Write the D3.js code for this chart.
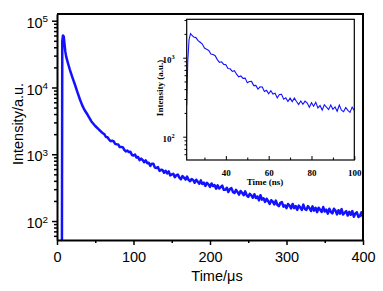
<!DOCTYPE html>
<html>
<head>
<meta charset="utf-8">
<script src="https://cdn.jsdelivr.net/npm/d3@7"></script>
<style>
    body { margin: 0; background: #fff; }
    svg { display: block; }
</style>
</head>
<body>
<div id="chart"></div>
<script>

// ---- main decay (time in µs) ----
// rise + fast decay, read point by point
const riseTime = [6.4, 6.9, 7.8, 8.8, 9.8, 10.8, 12, 13.5, 15, 17, 20, 23.5, 27, 30, 33, 36, 40, 45, 50, 55];
const riseCounts = [20, 50000, 60000, 58000, 45000, 35000, 29000, 25000, 21700, 18200, 14300, 11000, 8300, 6600, 5400, 4600, 3900, 3100, 2650, 2330];

// noisy tail, one reading every 2 µs from 60 to 400
const tailStart = 60, tailStep = 2;
const tailCounts = [
    2060, 1989, 1813, 1803, 1663, 1571, 1596, 1570, 1431, 1410,
    1406, 1280, 1288, 1279, 1166, 1104, 1137, 1080, 1087, 975,
    960, 992, 892, 908, 817, 860, 818, 758, 809, 735,
    745, 669, 723, 719, 631, 624, 641, 564, 584, 580,
    528, 566, 517, 554, 483, 499, 510, 453, 485, 495,
    446, 422, 470, 445, 418, 462, 414, 395, 426, 412,
    374, 416, 387, 362, 406, 359, 376, 335, 373, 354,
    325, 365, 334, 345, 305, 343, 307, 322, 340, 293,
    295, 315, 272, 301, 311, 273, 263, 293, 272, 249,
    282, 265, 244, 278, 243, 230, 256, 242, 223, 252,
    221, 233, 204, 244, 209, 219, 193, 216, 198, 180,
    205, 195, 177, 202, 175, 167, 187, 192, 164, 172,
    156, 180, 170, 155, 180, 156, 168, 147, 170, 159,
    147, 176, 152, 147, 167, 157, 141, 166, 143, 158,
    136, 158, 147, 137, 162, 139, 148, 129, 153, 137,
    130, 153, 144, 126, 145, 129, 151, 125, 133, 141,
    121, 137, 124, 141, 116, 130, 135, 115, 119, 135,
    114
];

// ---- inset (time in ns) ----
const insetRiseTime = [21.7, 22.2, 22.8, 23.5];
const insetRiseCounts = [250, 900, 1700, 2020];
const insetStart = 24, insetStep = 1;
const insetCounts = [
    1950, 1823, 1795, 1643, 1566, 1488, 1323, 1275, 1236, 1116,
    1096, 1061, 946, 874, 887, 822, 816, 728, 723, 670,
    686, 618, 572, 586, 547, 551, 482, 500, 501, 443,
    446, 401, 428, 426, 373, 386, 350, 381, 347, 355,
    310, 342, 343, 299, 310, 279, 308, 278, 308, 279,
    256, 283, 257, 282, 266, 236, 269, 243, 272, 231,
    248, 217, 254, 236, 220, 251, 222, 238, 210, 251,
    217, 207, 234, 216, 203, 237, 215
];

// ticks
const mainXTicks = [0, 100, 200, 300, 400];
const mainXMinor = [50, 150, 250, 350];
const mainYTicks = [1e2, 1e3, 1e4, 1e5];
const insetXTicks = [40, 60, 80, 100];
const insetXMinor = [30, 50, 70, 90];
const insetYTicks = [1e2, 1e3];

const W = 383, H = 291;
const lineColor = "#1212ff";

let mainData = riseTime.map((t, i) => ({t: t, v: riseCounts[i]}));
tailCounts.forEach((v, i) => mainData.push({t: tailStart + i * tailStep, v: v}));

let insetData = insetRiseTime.map((t, i) => ({t: t, v: insetRiseCounts[i]}));
insetCounts.forEach((v, i) => insetData.push({t: insetStart + i * insetStep, v: v}));

// minor log ticks
function logMinor(lo, hi) {
    let out = [];
    for (let e = Math.floor(Math.log10(lo)); e <= Math.ceil(Math.log10(hi)); e++) {
        for (let m = 2; m <= 9; m++) {
            let v = m * Math.pow(10, e);
            if (v >= lo && v <= hi) out.push(v);
        }
    }
    return out;
}

function supLabels(g, sizeEm) {
    g.selectAll(".tick text").each(function(d) {
        let t = d3.select(this).text(null);
        t.append("tspan").text("10");
        t.append("tspan")
            .attr("dy", "-0.55em")
            .attr("font-size", sizeEm)
            .text(Math.round(Math.log10(d)));
    });
}

let svg = d3.select("#chart").append("svg")
    .attr("width", W)
    .attr("height", H);

// ---------- main plot ----------
let plot = {left: 57, right: 363, top: 14, bottom: 240};

let x = d3.scaleLinear().domain([0, 400]).range([plot.left, plot.right]);
let y = d3.scaleLog().domain([52, 126000]).range([plot.bottom, plot.top]);

svg.append("clipPath").attr("id", "mainClip")
    .append("rect")
    .attr("x", plot.left).attr("y", plot.top)
    .attr("width", plot.right - plot.left)
    .attr("height", plot.bottom - plot.top);

let line = d3.line().x(d => x(d.t)).y(d => y(d.v));

svg.append("path")
    .datum(mainData)
    .attr("clip-path", "url(#mainClip)")
    .attr("fill", "none")
    .attr("stroke", lineColor)
    .attr("stroke-width", 2.5)
    .attr("stroke-linejoin", "round")
    .attr("d", line);

// frame top/right
svg.append("path")
    .attr("d", `M${plot.left},${plot.top}H${plot.right}V${plot.bottom}`)
    .attr("fill", "none")
    .attr("stroke", "#000")
    .attr("stroke-width", 2);

let mainFont = "'Liberation Sans', Arial, sans-serif";

let xAxisG = svg.append("g")
    .attr("transform", `translate(0,${plot.bottom})`)
    .call(d3.axisBottom(x).tickValues(mainXTicks).tickSize(5).tickSizeOuter(0).tickPadding(7));
svg.append("g")
    .attr("transform", `translate(0,${plot.bottom})`)
    .call(d3.axisBottom(x).tickValues(mainXMinor).tickSize(3).tickSizeOuter(0).tickFormat(""))
    .select(".domain").remove();

let yAxisG = svg.append("g")
    .attr("transform", `translate(${plot.left},0)`)
    .call(d3.axisLeft(y).tickValues(mainYTicks).tickSize(5).tickSizeOuter(0).tickPadding(4));
svg.append("g")
    .attr("transform", `translate(${plot.left},0)`)
    .call(d3.axisLeft(y).tickValues(logMinor(52, 126000)).tickSize(3).tickSizeOuter(0).tickFormat(""))
    .select(".domain").remove();

supLabels(yAxisG, "0.68em");

svg.selectAll(".domain").attr("stroke-width", 2);
svg.selectAll(".tick line").attr("stroke-width", 1.5);
[xAxisG, yAxisG].forEach(g => g.selectAll("text")
    .attr("font-family", mainFont)
    .attr("font-size", 14.5)
    .attr("fill", "#000"));
yAxisG.selectAll(".tick text").attr("dy", "0.45em");

svg.append("text")
    .attr("x", 217).attr("y", 281)
    .attr("text-anchor", "middle")
    .attr("font-family", mainFont)
    .attr("font-size", 14.5)
    .text("Time/\u03bcs");

svg.append("text")
    .attr("transform", "translate(23,124) rotate(-90)")
    .attr("text-anchor", "middle")
    .attr("font-family", mainFont)
    .attr("font-size", 14.5)
    .text("Intensity/a.u.");

// ---------- inset ----------
let ins = {left: 186.7, right: 354.3, top: 19.3, bottom: 160};

let xi = d3.scaleLinear().domain([21.7, 100]).range([ins.left, ins.right]);
let yi = d3.scaleLog().domain([50.7, 3060]).range([ins.bottom, ins.top]);

svg.append("rect")
    .attr("x", ins.left).attr("y", ins.top)
    .attr("width", ins.right - ins.left)
    .attr("height", ins.bottom - ins.top)
    .attr("fill", "#fff");

svg.append("clipPath").attr("id", "insetClip")
    .append("rect")
    .attr("x", ins.left).attr("y", ins.top)
    .attr("width", ins.right - ins.left)
    .attr("height", ins.bottom - ins.top);

let lineIn = d3.line().x(d => xi(d.t)).y(d => yi(d.v));

svg.append("path")
    .datum(insetData)
    .attr("clip-path", "url(#insetClip)")
    .attr("fill", "none")
    .attr("stroke", lineColor)
    .attr("stroke-width", 1.1)
    .attr("d", lineIn);

svg.append("rect")
    .attr("x", ins.left).attr("y", ins.top)
    .attr("width", ins.right - ins.left)
    .attr("height", ins.bottom - ins.top)
    .attr("fill", "none")
    .attr("stroke", "#000")
    .attr("stroke-width", 1.2);

let insetFont = "'Liberation Serif', 'Times New Roman', serif";

let xiG = svg.append("g")
    .attr("transform", `translate(0,${ins.bottom})`)
    .call(d3.axisBottom(xi).tickValues(insetXTicks).tickSize(-4).tickSizeOuter(0).tickPadding(9.5));
svg.append("g")
    .attr("transform", `translate(0,${ins.bottom})`)
    .call(d3.axisBottom(xi).tickValues(insetXMinor).tickSize(-2.5).tickSizeOuter(0).tickFormat(""))
    .select(".domain").remove();

let yiG = svg.append("g")
    .attr("transform", `translate(${ins.left},0)`)
    .call(d3.axisLeft(yi).tickValues(insetYTicks).tickSize(3.5).tickSizeOuter(0).tickPadding(8.5));
svg.append("g")
    .attr("transform", `translate(${ins.left},0)`)
    .call(d3.axisLeft(yi).tickValues(logMinor(50.7, 3060)).tickSize(2.2).tickSizeOuter(0).tickFormat(""))
    .select(".domain").remove();

supLabels(yiG, "0.7em");
xiG.select(".domain").remove();
yiG.select(".domain").remove();

[xiG, yiG].forEach(g => g.selectAll("text")
    .attr("font-family", insetFont)
    .attr("font-weight", "bold")
    .attr("font-size", 9)
    .attr("fill", "#000"));
yiG.selectAll(".tick text").attr("dy", "0.5em");

svg.append("text")
    .attr("x", 265).attr("y", 185)
    .attr("text-anchor", "middle")
    .attr("font-family", insetFont)
    .attr("font-weight", "bold")
    .attr("font-size", 9)
    .text("Time (ns)");

svg.append("text")
    .attr("transform", "translate(163,88) rotate(-90)")
    .attr("text-anchor", "middle")
    .attr("font-family", insetFont)
    .attr("font-weight", "bold")
    .attr("font-size", 9)
    .text("Intensity (a.u.)");

</script>
</body>
</html>
